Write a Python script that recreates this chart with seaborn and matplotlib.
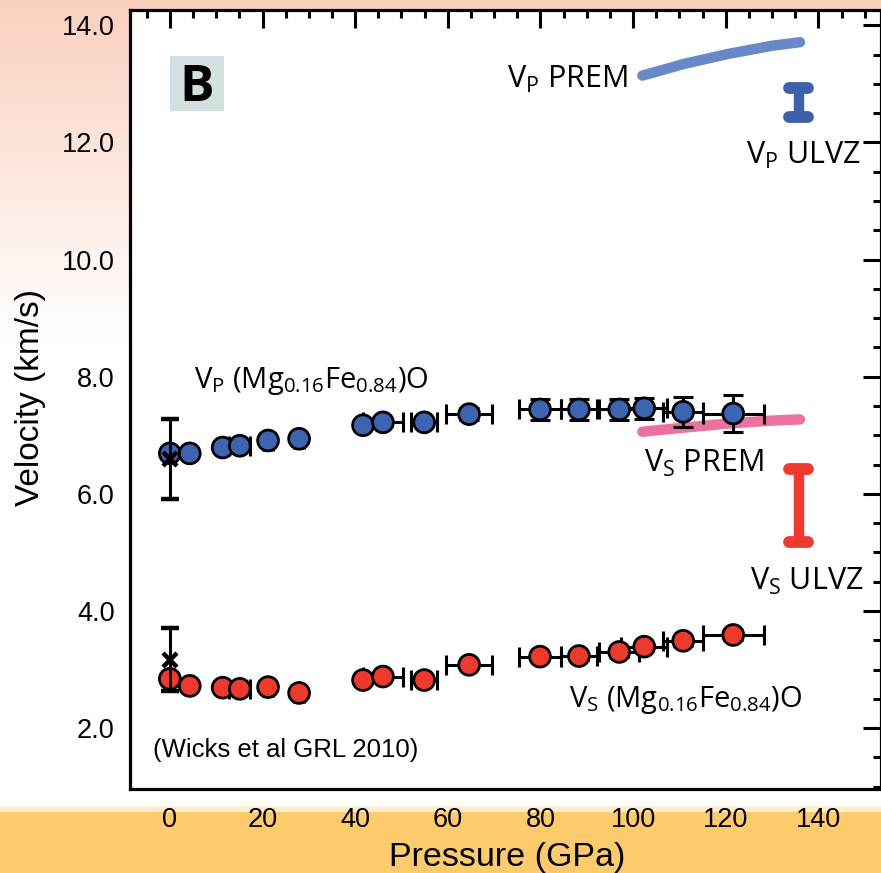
import numpy as np
import pandas as pd
import matplotlib
matplotlib.use("Agg")
import matplotlib.pyplot as plt
from matplotlib.ticker import MultipleLocator, FormatStrFormatter
from matplotlib.patches import Rectangle
import seaborn as sns

# (Mg0.16Fe0.84)O sound velocities vs pressure (Wicks et al. GRL 2010)
pressure = [0.0, 4.3, 11.4, 15.1, 21.2, 27.9, 41.7, 46.0, 54.9, 64.6,
            79.9, 88.3, 97.0, 102.4, 110.8, 121.6]
pressure_err = [0.0, 0.0, 0.0, 2.3, 1.0, 1.0, 0.0, 4.3, 2.8, 5.0,
                4.5, 3.8, 4.3, 5.0, 4.3, 6.6]
vp = [6.69, 6.69, 6.79, 6.82, 6.91, 6.94, 7.17, 7.22, 7.22, 7.36,
      7.44, 7.44, 7.44, 7.46, 7.40, 7.37]
vp_err = [0.0, 0.0, 0.0, 0.04, 0.04, 0.06, 0.04, 0.06, 0.06, 0.10,
          0.18, 0.18, 0.18, 0.18, 0.26, 0.32]
vs = [2.84, 2.72, 2.69, 2.67, 2.70, 2.60, 2.82, 2.88, 2.82, 3.08,
      3.22, 3.23, 3.30, 3.39, 3.49, 3.59]
vs_err = [0.0, 0.0, 0.0, 0.04, 0.04, 0.06, 0.04, 0.05, 0.05, 0.06,
          0.06, 0.06, 0.08, 0.08, 0.08, 0.08]

# ambient-pressure reference values
ambient_p = [0.0, 0.0]
ambient_v = [6.59, 3.17]
ambient_err = [0.68, 0.54]

# PREM in the lowermost mantle
prem_p = [102, 111, 120.5, 130, 136]
prem_vp = [13.14, 13.34, 13.51, 13.65, 13.71]
prem_vs = [7.06, 7.13, 7.20, 7.25, 7.27]

# ULVZ velocity ranges at the core-mantle boundary
ulvz_p = 135.7
ulvz_vp = [12.43, 12.92]
ulvz_vs = [5.18, 6.43]

BLUE = "#3d64b0"
RED = "#ee3a2e"

sns.set_style("white")
plt.rcParams.update({
    "font.family": ["Liberation Sans", "DejaVu Sans"],
    "mathtext.fontset": "custom",
    "mathtext.rm": "Open Sans",
    "mathtext.it": "Open Sans:italic",
    "mathtext.default": "regular",
    "axes.linewidth": 2.3,
    "text.color": "black",
    "axes.labelcolor": "black",
    "xtick.color": "black",
    "ytick.color": "black",
    "axes.edgecolor": "black",
})

W, H = 881, 873
fig = plt.figure(figsize=(W / 100, H / 100), dpi=100)

# figure backdrop: pink wash at the top, orange band at the bottom
bg = fig.add_axes([0, 0, 1, 1], zorder=-10)
rows = np.arange(H)
t = np.clip(rows / 340.0, 0, 1)[:, None]
top = np.array([251, 208, 190]) / 255
white = np.array([1.0, 1.0, 1.0])
img = np.tile((top * (1 - t) + white * t)[:, None, :], (1, W, 1))
img[806:812] = np.array([253, 236, 206]) / 255
img[812:] = np.array([253, 202, 108]) / 255
bg.imshow(img, aspect="auto", extent=[0, 1, 0, 1], origin="upper")
bg.axis("off")

ax = fig.add_axes([130 / W, 1 - 789 / H, (W - 130) / W, (789 - 10) / H])
ax.set_facecolor("white")

df = pd.DataFrame({
    "pressure": pressure * 2,
    "velocity": vp + vs,
    "wave": ["Vp"] * len(vp) + ["Vs"] * len(vs),
})

# error bars under the markers
ax.errorbar(pressure, vp, xerr=pressure_err, yerr=vp_err, fmt="none",
            ecolor="black", elinewidth=2.2, capsize=7, capthick=2.2, zorder=2)
ax.errorbar(pressure, vs, xerr=pressure_err, yerr=vs_err, fmt="none",
            ecolor="black", elinewidth=2.2, capsize=7, capthick=2.2, zorder=2)

sns.scatterplot(data=df, x="pressure", y="velocity", hue="wave",
                palette={"Vp": BLUE, "Vs": RED}, s=225, edgecolor="black",
                linewidth=2.0, legend=False, zorder=3, ax=ax)

# ambient-pressure values with their uncertainties
ax.errorbar(ambient_p, ambient_v, yerr=ambient_err, fmt="x", color="black",
            markersize=10, markeredgewidth=3.2, elinewidth=2.2, capsize=6.5,
            capthick=2.2, zorder=4)

# PREM curves
prem = pd.DataFrame({"pressure": prem_p * 2, "velocity": prem_vp + prem_vs,
                     "model": ["Vp"] * len(prem_p) + ["Vs"] * len(prem_p)})
sns.lineplot(data=prem, x="pressure", y="velocity", hue="model",
             palette={"Vp": "#6888c8", "Vs": "#ec70a0"}, linewidth=7.5,
             solid_capstyle="round", legend=False, zorder=1, ax=ax)

# ULVZ ranges drawn as thick I-bars
cap_half = 2.0
for rng, col in ((ulvz_vp, "#3c60aa"), (ulvz_vs, RED)):
    ax.plot([ulvz_p, ulvz_p], rng, color=col, lw=7.5,
            solid_capstyle="butt", zorder=2)
    for v in rng:
        ax.plot([ulvz_p - cap_half, ulvz_p + cap_half], [v, v], color=col,
                lw=8.5, solid_capstyle="round", zorder=2)

ax.set_xlim(-8.6, 153.5)
ax.set_ylim(0.96, 14.26)
ax.xaxis.set_major_locator(MultipleLocator(20))
ax.xaxis.set_minor_locator(MultipleLocator(5))
ax.yaxis.set_major_locator(MultipleLocator(2))
ax.yaxis.set_minor_locator(MultipleLocator(0.5))
ax.yaxis.set_major_formatter(FormatStrFormatter("%.1f"))
ax.tick_params(which="both", direction="in", top=True, right=True,
               width=2.2, colors="black")
ax.tick_params(which="major", length=13)
ax.tick_params(which="minor", length=6)
ax.tick_params(axis="x", which="major", labelsize=19.5, pad=13)
ax.tick_params(axis="y", which="major", labelsize=19.5, pad=11)

ax.set_xlabel("Pressure (GPa)", fontsize=24.5, va="center")
ax.xaxis.set_label_coords(0.502, -0.0885)
ax.set_ylabel("Velocity (km/s)", fontsize=24, va="center")
ax.yaxis.set_label_coords(-0.133, 0.503)

lab = dict(fontsize=22, color="black", zorder=5, family="Open Sans")
ax.text(98.9, 12.93, r"V$_P$ PREM", ha="right", va="baseline", **lab)
ax.text(136.7, 11.63, r"V$_P$ ULVZ", ha="center", va="baseline", **lab)
ax.text(102.4, 6.37, r"V$_S$ PREM", ha="left", va="baseline", **lab)
ax.text(137.4, 4.36, r"V$_S$ ULVZ", ha="center", va="baseline", **lab)
form = dict(fontsize=21, color="black", zorder=5, family="Open Sans")
ax.text(5.2, 7.80, r"V$_P$ (Mg$_{0.16}$Fe$_{0.84}$)O", ha="left",
        va="baseline", **form)
ax.text(86.2, 2.36, r"V$_S$ (Mg$_{0.16}$Fe$_{0.84}$)O", ha="left",
        va="baseline", **form)
ax.text(-3.7, 1.51, "(Wicks et al GRL 2010)", ha="left", va="baseline",
        fontsize=18.5, family="Liberation Sans")

# panel letter
ax.add_patch(Rectangle((0.0533, 0.870), 0.0719, 0.0706,
                       transform=ax.transAxes, facecolor="#d3e0e0",
                       edgecolor="none", zorder=4))
ax.text(0.0892, 0.8836, "B", transform=ax.transAxes, ha="center",
        va="baseline", fontsize=37, fontweight="bold", family="Open Sans",
        zorder=5)

fig.savefig("out.png", dpi=100)
